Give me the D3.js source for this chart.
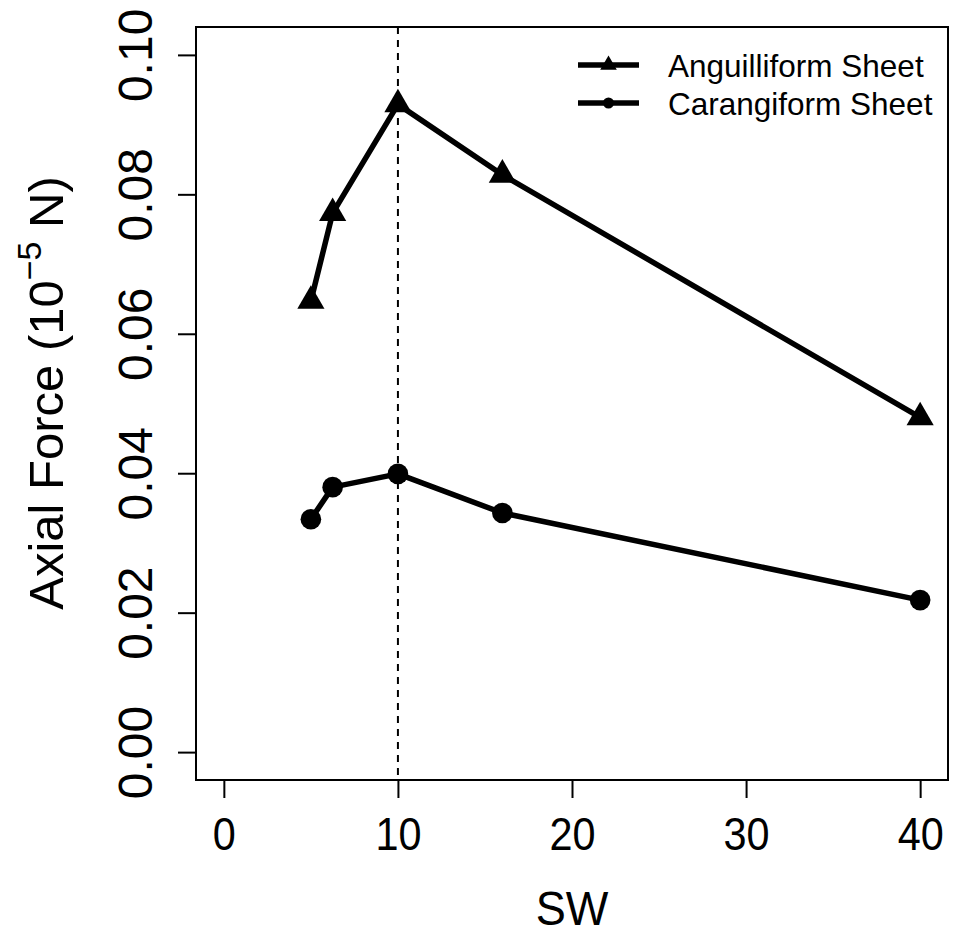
<!DOCTYPE html>
<html lang="en">
<head>
  <meta charset="utf-8" />
  <title>Axial Force vs SW</title>
  <script src="https://cdn.jsdelivr.net/npm/d3@7"></script>
  <style>
    body { margin: 0; background: #fff; }
    svg text { font-family: "Liberation Sans", Arial, Helvetica, sans-serif; fill: #000; }
  </style>
</head>
<body>
  <div id="chart"></div>
  <script>
    // values
    const sw = [5, 6.25, 10, 16, 40];
    const anguilliform = [0.0647, 0.0773, 0.0929, 0.0828, 0.0480];
    const carangiform = [0.0334, 0.0380, 0.0399, 0.0343, 0.0218];
    const xTicks = [0, 10, 20, 30, 40];
    const yTicks = [0, 0.02, 0.04, 0.06, 0.08, 0.10];
    const seriesNames = ["Anguilliform Sheet", "Carangiform Sheet"];
    const refLine = 10;

    const w = 954, h = 928;
    const box = { left: 196, right: 948, top: 27, bottom: 780 };
    const squeeze = 0.9; // text in the reference looks horizontally narrowed

    const svg = d3.select("#chart").append("svg")
      .attr("width", w)
      .attr("height", h);

    // R style: limits with 4% padding
    const x = d3.scaleLinear().domain([-1.6, 41.6]).range([box.left, box.right]);
    const y = d3.scaleLinear().domain([-0.004, 0.104]).range([box.bottom, box.top]);

    // x axis
    const xAxis = svg.append("g")
      .attr("transform", `translate(0,${box.bottom})`)
      .call(d3.axisBottom(x).tickValues(xTicks).tickSize(18).tickFormat(d3.format("d")));
    xAxis.select(".domain").attr("d", `M${x(0)},0H${x(40)}`).attr("stroke-width", 2);
    xAxis.selectAll(".tick line").attr("stroke-width", 2);
    xAxis.selectAll(".tick text")
      .attr("y", 0).attr("dy", null)
      .attr("font-size", 46)
      .attr("text-anchor", "middle")
      .attr("transform", `translate(0,70) scale(${squeeze},1)`);

    // y axis
    const yAxis = svg.append("g")
      .attr("transform", `translate(${box.left},0)`)
      .call(d3.axisLeft(y).tickValues(yTicks).tickSize(18).tickFormat(d3.format(".2f")));
    yAxis.select(".domain").attr("d", `M0,${y(0)}V${y(0.1)}`).attr("stroke-width", 2);
    yAxis.selectAll(".tick line").attr("stroke-width", 2);
    yAxis.selectAll(".tick text")
      .attr("x", 0).attr("dy", null)
      .attr("font-size", 48)
      .attr("text-anchor", "middle")
      .attr("transform", `translate(-44,0) rotate(-90)`);

    svg.selectAll(".domain, .tick line").attr("stroke", "#000");

    // box
    svg.append("rect")
      .attr("x", box.left).attr("y", box.top)
      .attr("width", box.right - box.left).attr("height", box.bottom - box.top)
      .attr("fill", "none").attr("stroke", "#000").attr("stroke-width", 2);

    // dashed reference line
    svg.append("line")
      .attr("x1", x(refLine)).attr("x2", x(refLine))
      .attr("y1", box.top).attr("y2", box.bottom)
      .attr("stroke", "#000").attr("stroke-width", 2)
      .attr("stroke-dasharray", "7,6");

    const line = d3.line().x(d => x(d[0])).y(d => y(d[1]));
    const series = [
      { values: anguilliform, shape: d3.symbolTriangle, size: 320, legSize: 120 },
      { values: carangiform, shape: d3.symbolCircle, size: 335, legSize: 95 }
    ];

    series.forEach(s => {
      const pts = sw.map((v, i) => [v, s.values[i]]);
      svg.append("path")
        .attr("d", line(pts))
        .attr("fill", "none").attr("stroke", "#000")
        .attr("stroke-width", 5.5).attr("stroke-linejoin", "round");
      svg.selectAll(null).data(pts).enter().append("path")
        .attr("transform", d => `translate(${x(d[0])},${y(d[1])})`)
        .attr("d", d3.symbol().type(s.shape).size(s.size))
        .attr("fill", "#000");
    });

    // legend
    const legend = svg.append("g").attr("transform", "translate(578,65)");
    seriesNames.forEach((name, i) => {
      const g = legend.append("g").attr("transform", `translate(0,${i * 38})`);
      g.append("line").attr("x1", 0).attr("x2", 61)
        .attr("stroke", "#000").attr("stroke-width", 5.5);
      g.append("path")
        .attr("transform", "translate(30.5,0)")
        .attr("d", d3.symbol().type(series[i].shape).size(series[i].legSize))
        .attr("fill", "#000");
      g.append("text")
        .attr("x", 90).attr("y", 12)
        .attr("font-size", 31.5)
        .text(name);
    });

    // axis titles
    svg.append("text")
      .attr("text-anchor", "middle")
      .attr("font-size", 48)
      .attr("transform", `translate(${(box.left + box.right) / 2},925) scale(0.94,1)`)
      .text("SW");

    const yTitle = svg.append("text")
      .attr("text-anchor", "middle")
      .attr("font-size", 49)
      .attr("transform", `translate(63,393) rotate(-90)`);
    yTitle.append("tspan").text("Axial Force (10");
    yTitle.append("tspan").attr("font-size", 34).attr("dy", -22).text("\u22125");
    yTitle.append("tspan").attr("dy", 22).text(" N)");
  </script>
</body>
</html>
